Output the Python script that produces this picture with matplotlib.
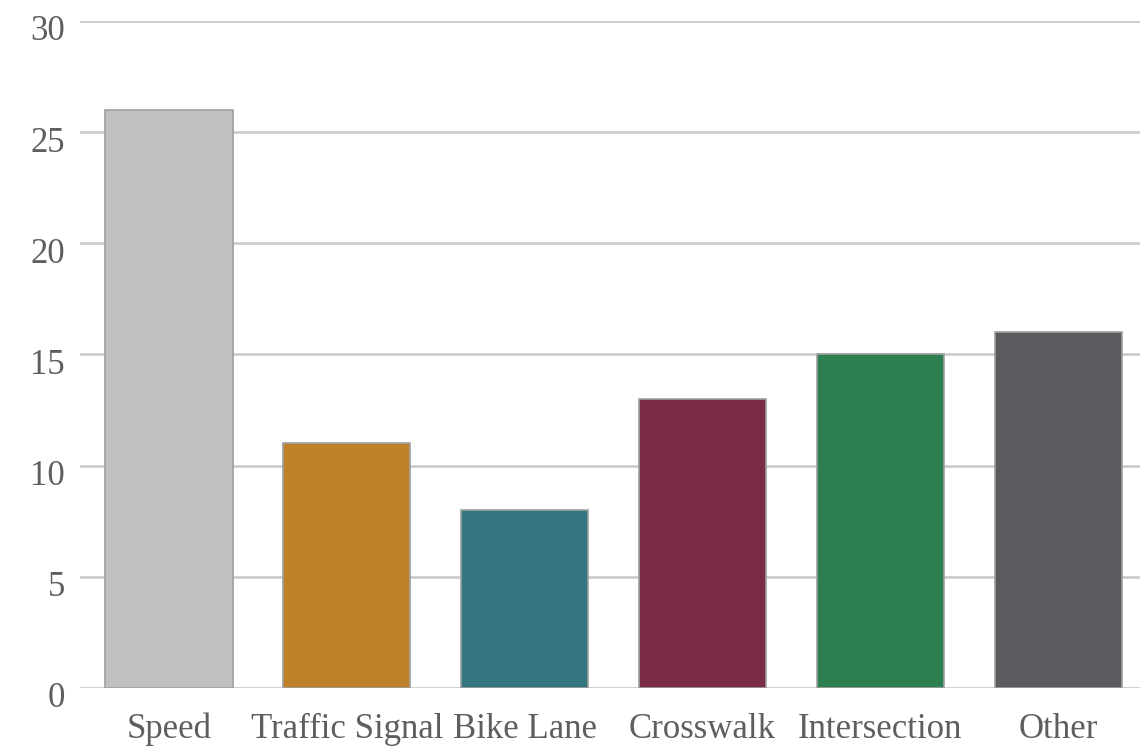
import matplotlib
matplotlib.use("Agg")
import matplotlib.pyplot as plt
import matplotlib.transforms as mtransforms

categories = ["Speed", "Traffic Signal", "Bike Lane", "Crosswalk", "Intersection", "Other"]
counts = [26, 11, 8, 13, 15, 16]
colors = ["#c1c1c1", "#c0812b", "#33767f", "#7b2b47", "#2e7f50", "#5b5a5e"]
yticks = [0, 5, 10, 15, 20, 25, 30]

plt.rcParams["font.family"] = ["Liberation Serif", "DejaVu Serif"]

fig = plt.figure(figsize=(11.4, 7.47), dpi=100)
ax = fig.add_axes([0.0702, 0.079, 0.9298, 0.893])

x = list(range(len(categories)))
ax.bar(x, counts, width=0.715, color=colors, edgecolor="#a0a0a0", linewidth=1.2, zorder=3)

ax.set_ylim(0, 30)
ax.set_xlim(-0.5, 5.46)
ax.set_yticks(yticks)
ax.set_xticks(x)
ax.set_xticklabels(categories)
ax.yaxis.grid(True, color="#cccccc", linewidth=2, zorder=0)
for s in ax.spines.values():
    s.set_visible(False)
ax.tick_params(axis="both", length=0, labelsize=25, labelcolor="#5e5e5e")
ax.tick_params(axis="y", pad=11)
ax.tick_params(axis="x", pad=18)

# nudge the y labels a little below their gridlines
shift = mtransforms.ScaledTranslation(0, -7 / 100, fig.dpi_scale_trans)
for lbl in ax.get_yticklabels():
    lbl.set_transform(lbl.get_transform() + shift)

fig.savefig("out.png", dpi=100)
